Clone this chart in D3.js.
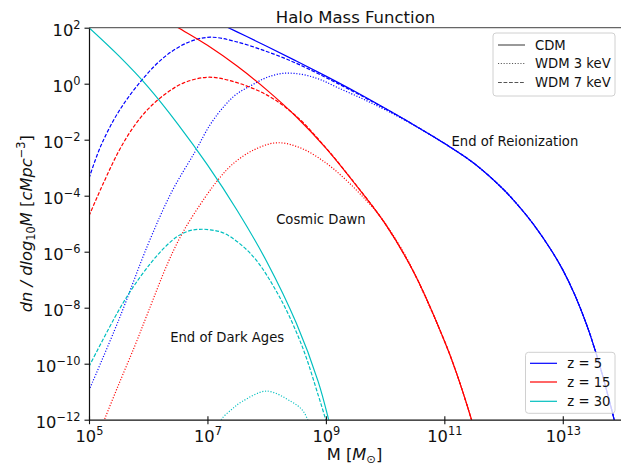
<!DOCTYPE html>
<html>
<head>
<meta charset="utf-8">
<script src="https://cdn.jsdelivr.net/npm/d3@7"></script>
<style>
  html, body { margin: 0; padding: 0; background: #fff; }
  svg { display: block; font-family: "DejaVu Sans", sans-serif; }
</style>
</head>
<body>
<svg id="chart" width="621" height="464"></svg>
<script>
// Halo mass function: [log10 M, log10 dn/dlog10M] samples per redshift and dark-matter model.
const z5CDM = [[7.0, 2.36], [7.5, 1.85], [8.0, 1.34], [8.5, 0.81], [9.0, 0.27], [9.5, -0.29], [10.0, -0.88],
  [10.5, -1.49], [11.0, -2.13], [11.5, -2.84], [12.0, -3.78], [12.3, -4.48], [12.5, -5.01], [12.8, -5.93],
  [13.0, -6.65], [13.2, -7.53], [13.4, -8.59], [13.6, -9.89], [13.8, -11.43], [13.95, -12.72]];
const z5WDM7 = [[5.0, -3.38], [5.2, -2.22], [5.5, -1.0], [5.9, 0.15], [6.3, 1.0], [6.7, 1.50], [7.05, 1.66],
  [7.45, 1.52], [8.0, 1.15], [8.5, 0.73], [9.0, 0.22], [9.5, -0.32], [10.0, -0.89], [10.5, -1.49],
  [11.0, -2.13], [11.5, -2.84], [12.0, -3.78], [12.3, -4.48], [12.5, -5.01], [12.8, -5.93],
  [13.0, -6.65], [13.2, -7.53], [13.4, -8.59], [13.6, -9.89], [13.8, -11.43], [13.95, -12.72]];
const z5WDM3 = [[5.0, -10.95], [5.5, -8.45], [6.0, -5.72], [6.4, -3.85], [6.79, -2.43], [7.05, -1.45],
  [7.3, -0.76], [7.5, -0.36], [7.75, -0.05], [8.0, 0.22], [8.28, 0.37], [8.6, 0.33], [8.9, 0.15],
  [9.2, -0.14], [9.6, -0.52], [10.0, -0.93], [10.5, -1.50], [11.0, -2.14], [11.5, -2.85], [12.0, -3.78],
  [12.3, -4.48], [12.5, -5.01], [12.8, -5.93], [13.0, -6.65], [13.2, -7.53], [13.4, -8.59],
  [13.6, -9.89], [13.8, -11.43], [13.95, -12.72]];

const z15CDM = [[6.2, 2.40], [6.5, 2.01], [7.0, 1.37], [7.5, 0.63], [8.0, -0.22], [8.5, -1.18], [9.0, -2.30],
  [9.5, -3.60], [10.0, -5.0], [10.5, -6.80], [11.0, -9.18], [11.2, -10.30], [11.46, -12.01], [11.55, -12.7]];
const z15WDM7 = [[5.0, -4.72], [5.25, -3.52], [5.5, -2.42], [5.75, -1.55], [6.0, -0.90], [6.3, -0.35],
  [6.6, 0.03], [7.0, 0.23], [7.4, 0.10], [8.0, -0.40], [8.5, -1.16], [9.0, -2.29], [9.5, -3.59],
  [10.0, -5.0], [10.5, -6.80], [11.0, -9.18], [11.2, -10.30], [11.46, -12.01], [11.55, -12.7]];
const z15WDM3 = [[5.2, -12.35], [5.27, -11.95], [5.5, -10.75], [5.78, -9.33], [6.0, -8.15], [6.34, -6.36],
  [6.6, -5.25], [6.97, -4.03], [7.2, -3.38], [7.41, -2.90], [7.75, -2.40], [8.17, -2.11], [8.59, -2.31],
  [9.0, -2.83], [9.3, -3.36], [9.57, -3.92], [9.91, -4.72], [10.3, -5.98], [10.5, -6.80], [11.0, -9.18],
  [11.2, -10.30], [11.46, -12.01], [11.55, -12.7]];

const z30CDM = [[5.0, 2.0], [5.5, 1.0], [6.0, -0.12], [6.5, -1.44], [7.0, -2.90], [7.5, -4.52], [8.0, -6.35],
  [8.5, -8.55], [8.87, -10.64], [9.04, -11.95], [9.1, -12.5]];
const z30WDM7 = [[5.0, -10.10], [5.49, -8.14], [5.75, -7.25], [6.06, -6.36], [6.3, -5.80], [6.51, -5.43],
  [6.7, -5.25], [6.87, -5.20], [7.05, -5.22], [7.3, -5.36], [7.75, -6.12], [8.2, -7.55], [8.59, -9.33],
  [8.87, -11.12], [8.99, -11.95], [9.05, -12.4]];
const z30WDM3 = [[7.2, -12.3], [7.24, -11.98], [7.4, -11.65], [7.58, -11.36], [8.0, -10.98], [8.42, -11.36],
  [8.6, -11.65], [8.69, -11.98], [8.75, -12.3]];

const redshiftLabels = ["z = 5", "z = 15", "z = 30"];
const redshiftColors = ["#0000ff", "#ff0000", "#00bfbf"];
const modelLabels = ["CDM", "WDM 3 keV", "WDM 7 keV"];
const modelDashes = [null, "1.1,1.7", "3.8,1.7"];

const xTickExps = [5, 7, 9, 11, 13];
const yTickExps = [2, 0, -2, -4, -6, -8, -10, -12];

// Region annotations placed in data coordinates [log10 M, log10 dn/dlog10M]
const regionLabels = ["End of Reionization", "Cosmic Dawn", "End of Dark Ages"];
const regionPos = [[11.12, -2.24], [8.16, -5.01], [6.37, -9.23]];

const series = [
  { data: z5CDM, z: 0, m: 0 }, { data: z5WDM3, z: 0, m: 1 }, { data: z5WDM7, z: 0, m: 2 },
  { data: z15CDM, z: 1, m: 0 }, { data: z15WDM3, z: 1, m: 1 }, { data: z15WDM7, z: 1, m: 2 },
  { data: z30CDM, z: 2, m: 0 }, { data: z30WDM3, z: 2, m: 1 }, { data: z30WDM7, z: 2, m: 2 }
];

const svg = d3.select("#chart");
const plotLeft = 89, plotRight = 622, plotTop = 27.7, plotBottom = 419.7;

const x = d3.scaleLog().domain([1e5, 1e14]).range([plotLeft, plotRight]);
const y = d3.scaleLog().domain([1e-12, 1e2]).range([plotBottom, plotTop]);

svg.append("defs").append("clipPath").attr("id", "plot-clip")
  .append("rect").attr("x", plotLeft).attr("y", plotTop)
  .attr("width", plotRight - plotLeft).attr("height", plotBottom - plotTop);

const line = d3.line()
  .x(d => x(Math.pow(10, d[0])))
  .y(d => y(Math.pow(10, d[1])))
  .curve(d3.curveCatmullRom.alpha(0.5));

const curves = svg.append("g").attr("clip-path", "url(#plot-clip)");
series.forEach(s => {
  curves.append("path")
    .attr("d", line(s.data))
    .attr("fill", "none")
    .attr("stroke", redshiftColors[s.z])
    .attr("stroke-width", 1.2)
    .attr("stroke-dasharray", modelDashes[s.m]);
});

// Power-of-ten label with raised exponent
function powLabel(sel, exp) {
  sel.text(null);
  sel.append("tspan").text("10");
  sel.append("tspan")
    .attr("dy", -6.8)
    .attr("font-size", "11.4px")
    .text(String(exp).replace("-", "\u2212"));
}

// x axis
const xAxis = svg.append("g")
  .attr("transform", `translate(0,${plotBottom})`)
  .call(d3.axisBottom(x).tickValues(xTickExps.map(e => Math.pow(10, e))).tickSizeOuter(0).tickSizeInner(4.5));
xAxis.select(".domain").attr("stroke", "#111").attr("stroke-width", 1.2);
xAxis.selectAll(".tick line").attr("y1", -3.5).attr("stroke", "#111").attr("stroke-width", 1.1);
xAxis.selectAll(".tick text")
  .attr("y", 22).attr("dy", 0)
  .attr("font-size", "16.3px").attr("fill", "#111")
  .attr("font-family", "DejaVu Sans")
  .each(function (d) { powLabel(d3.select(this), Math.round(Math.log10(d))); })
  .attr("text-anchor", "middle");

// y axis
const yAxis = svg.append("g")
  .attr("transform", `translate(${plotLeft},0)`)
  .call(d3.axisLeft(y).tickValues(yTickExps.map(e => Math.pow(10, e))).tickSizeOuter(0).tickSizeInner(4.5));
yAxis.select(".domain").attr("stroke", "#111").attr("stroke-width", 1.2);
yAxis.selectAll(".tick line").attr("stroke", "#111").attr("stroke-width", 1.1);
yAxis.selectAll(".tick text")
  .attr("x", -8.5).attr("y", 7.5).attr("dy", 0)
  .attr("font-size", "16.3px").attr("fill", "#111")
  .attr("font-family", "DejaVu Sans")
  .each(function (d) { powLabel(d3.select(this), Math.round(Math.log10(d))); });

// top frame line
svg.append("line")
  .attr("x1", plotLeft).attr("x2", plotRight).attr("y1", plotTop).attr("y2", plotTop)
  .attr("stroke", "#666").attr("stroke-width", 1.2);

// title
svg.append("text")
  .attr("x", (plotLeft + plotRight) / 2).attr("y", 23)
  .attr("text-anchor", "middle").attr("font-size", "16.5px").attr("fill", "#111")
  .text("Halo Mass Function");

// x label: M [M_sun]
const xl = svg.append("text")
  .attr("x", (plotLeft + plotRight) / 2 - 1).attr("y", 459.5)
  .attr("text-anchor", "middle").attr("font-size", "16.3px").attr("fill", "#111");
xl.append("tspan").text("M [");
xl.append("tspan").attr("font-style", "italic").text("M");
xl.append("tspan").attr("font-size", "11.4px").attr("dy", 3).text("\u2299");
xl.append("tspan").attr("dy", -3).text("]");

// y label: dn / dlog10 M [cMpc^-3]
const yl = svg.append("text")
  .attr("transform", `translate(31.5,${(plotTop + plotBottom) / 2}) rotate(-90)`)
  .attr("text-anchor", "middle").attr("font-size", "16.3px").attr("fill", "#111");
yl.append("tspan").attr("font-style", "italic").text("dn / dlog");
yl.append("tspan").attr("font-size", "11.4px").attr("dy", 3.5).text("10");
yl.append("tspan").attr("font-style", "italic").attr("dy", -3.5).text("M");
yl.append("tspan").text(" [");
yl.append("tspan").attr("font-style", "italic").text("cMpc");
yl.append("tspan").attr("font-size", "11.4px").attr("dy", -7).text("\u22123");
yl.append("tspan").attr("dy", 7).text("]");

// region annotations
svg.append("g").selectAll("text")
  .data(regionLabels)
  .join("text")
  .attr("x", (d, i) => x(Math.pow(10, regionPos[i][0])))
  .attr("y", (d, i) => y(Math.pow(10, regionPos[i][1])))
  .attr("font-size", "13.2px").attr("fill", "#111")
  .text(d => d);

// legend helper
function legend(x0, y0, w, h, labels, colors, dashes, rowY, lineX0, lineX1, textX) {
  const g = svg.append("g");
  g.append("rect")
    .attr("x", x0).attr("y", y0).attr("width", w).attr("height", h)
    .attr("rx", 3).attr("fill", "#fff").attr("fill-opacity", 0.8)
    .attr("stroke", "#d0d0d0").attr("stroke-width", 1);
  labels.forEach((lab, i) => {
    g.append("line")
      .attr("x1", lineX0).attr("x2", lineX1).attr("y1", rowY[i]).attr("y2", rowY[i])
      .attr("stroke", colors[i]).attr("stroke-width", 1.2)
      .attr("stroke-dasharray", dashes[i]);
    g.append("text")
      .attr("x", textX).attr("y", rowY[i] + 4.8)
      .attr("font-size", "13.2px").attr("fill", "#111")
      .text(lab);
  });
}

legend(493, 33, 122, 63, modelLabels, ["#555", "#555", "#555"], modelDashes,
  [45, 63.5, 82.5], 498, 525, 535);
legend(525.5, 352.3, 89.5, 61, redshiftLabels, redshiftColors, [null, null, null],
  [363.3, 382, 401.3], 530, 557, 567.3);
</script>
</body>
</html>
